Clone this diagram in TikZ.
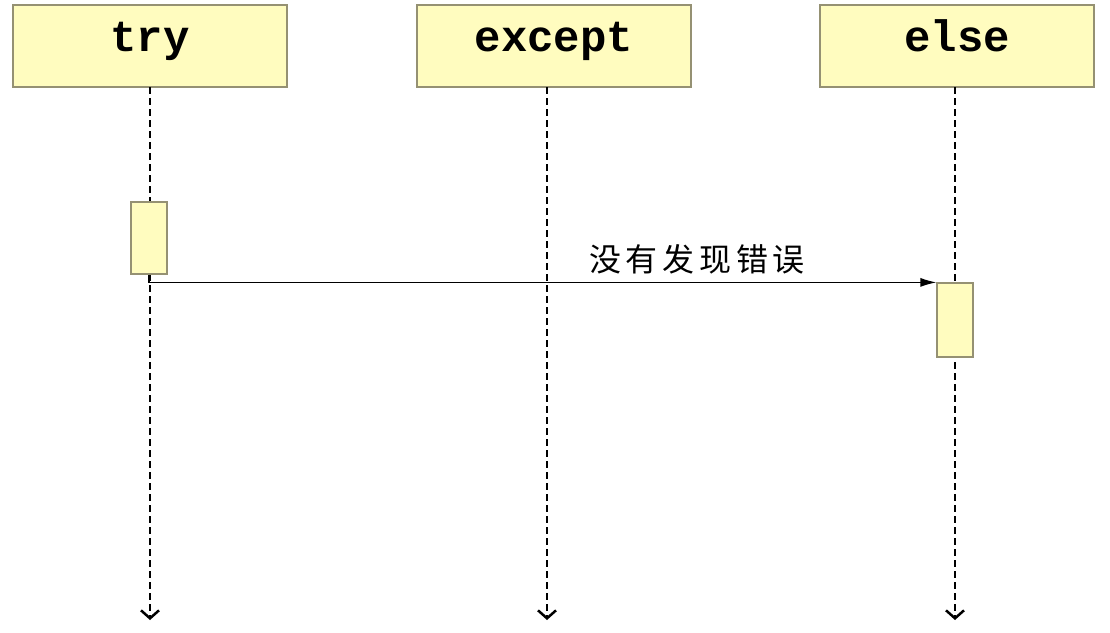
\documentclass[tikz,border=0pt]{standalone}
\usepackage{fontspec}
\setmonofont{Liberation Mono}
\newfontfamily\cjk[LetterSpace=15]{Noto Sans CJK SC}
\usetikzlibrary{arrows.meta}
\begin{document}
\begin{tikzpicture}[x=1pt,y=-1pt,
  head/.style={draw=black!45!yellow!40!gray,line width=1.5pt,fill=yellow!25,minimum width=274pt,minimum height=82pt,inner sep=0pt,text height=22pt,text depth=12pt,font=\fontsize{44}{44}\ttfamily\bfseries},
  act/.style={draw=black!45!yellow!40!gray,line width=1.2pt,fill=yellow!25,minimum width=36pt,inner sep=0pt},
  life/.style={line width=1.3pt,dash pattern=on 7pt off 4pt,-{Straight Barb[length=8pt,width=18pt,line width=2.5pt]}}]
\useasboundingbox (0,0) rectangle (1110,632);
\node[head] (t) at (150,46) {try};
\node[head] (x) at (554,46) {except};
\node[head] (e) at (957,46) {else};
\coordinate (te) at (150,620);
\coordinate (xe) at (547,620);
\coordinate (ee) at (955,620);
\draw[life] (150,87) -- (te);
\draw[life] (547,87) -- (xe);
\draw[life] (955,87) -- (ee);
\node[act,minimum height=72pt] (a1) at (149,238) {};
\node[act,minimum height=74pt] (a2) at (955,320) {};
\draw[line width=1.2pt,-{Latex[length=16pt,width=9pt]}] (a1.south) |- (a2.north west);
\node[font=\fontsize{32}{32}\cjk] (lbl) at (697,259) {没有发现错误};
\end{tikzpicture}
\end{document}
